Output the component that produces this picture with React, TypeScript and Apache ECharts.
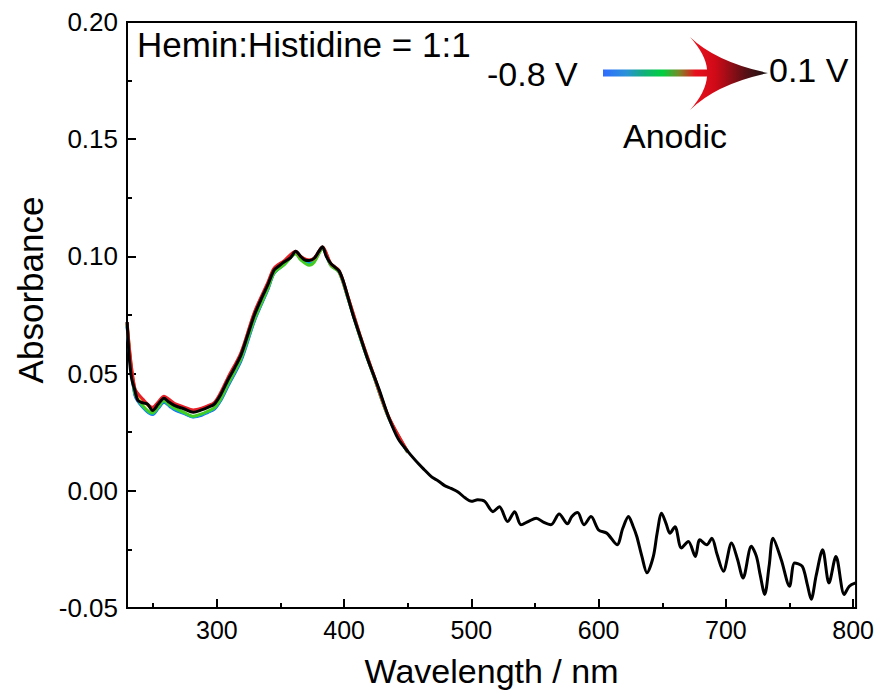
import React, { useEffect, useRef } from "react";
import * as echarts from "echarts";

// Black (final, 0.1 V) spectrum
const wavelengths = [
  229.5, 231, 233, 235.5, 238, 242, 245.5, 249.5, 254, 258.5, 262, 267, 274, 281.5, 288, 293, 298, 303, 309, 314,
  319, 324, 329.5, 335, 340, 345, 349, 353, 358, 362, 366, 369, 372.5, 376.5, 380, 383, 386, 389.5, 392.5, 396,
  399, 402.5, 407, 413, 418, 423, 428, 435, 442.5, 450.5, 458.5, 463, 469, 474, 479, 484, 489.5, 495, 500, 505,
  510.5, 517, 522, 528.5, 534, 539, 545, 551, 557, 562.5, 569, 575.5, 579, 583.5, 588.5, 594, 600, 606.5, 614.5, 619,
  623.5, 627, 630, 634, 638, 643, 646, 649.5, 653, 656, 660, 665, 670.5, 676, 679.5, 685, 689, 693, 698, 704.5,
  709, 713.5, 720, 724, 727, 730.5, 734, 737, 743.5, 750, 754, 760, 764, 767, 771, 776, 781, 786.5, 793, 797, 802,
];
const absorbanceFinal = [
  0.072, 0.058, 0.048, 0.043, 0.0385, 0.0375, 0.037, 0.0343, 0.037, 0.0395, 0.038, 0.0363, 0.035, 0.0335, 0.0345, 0.0356, 0.037, 0.041, 0.0476, 0.0525,
  0.058, 0.066, 0.075, 0.082, 0.0878, 0.0942, 0.096, 0.0977, 0.0995, 0.1022, 0.0999, 0.0985, 0.0982, 0.0992, 0.102, 0.1041, 0.1, 0.097, 0.0955, 0.0938,
  0.09, 0.0836, 0.075, 0.0653, 0.057, 0.0497, 0.0425, 0.0314, 0.0222, 0.0165, 0.0115, 0.009, 0.0058, 0.0042, 0.0022, 0.001, -0.0005, -0.003, -0.0045, -0.0038,
  -0.0045, -0.0089, -0.0068, -0.0131, -0.0089, -0.0145, -0.013, -0.0117, -0.0135, -0.0145, -0.0099, -0.0141, -0.011, -0.0093, -0.0145, -0.011, -0.0167, -0.0181, -0.023, -0.016,
  -0.011, -0.015, -0.0195, -0.028, -0.035, -0.028, -0.018, -0.0096, -0.014, -0.0181, -0.0153, -0.0244, -0.0216, -0.028, -0.0209, -0.023, -0.0202, -0.027, -0.0343, -0.0223,
  -0.029, -0.0372, -0.0237, -0.028, -0.036, -0.0442, -0.032, -0.0202, -0.0294, -0.0407, -0.0308, -0.0322, -0.04, -0.0463, -0.036, -0.0251, -0.0393, -0.028, -0.0442, -0.0407, -0.0393,
];

// Coloured intermediate spectra (only visible in the 230–450 nm region)
const wavelengthsColour = [
  229.5, 235.5, 242, 249.5, 254, 258.5, 263, 267, 274, 281.5, 288, 293, 298, 303, 309, 319,
  329.5, 340, 345, 353, 362, 366, 372.5, 376.5, 383, 389.5, 396, 402.5, 413, 423, 435, 450,
];
const absorbanceBlue = [
  0.07, 0.041, 0.0355, 0.0325, 0.0352, 0.0378, 0.036, 0.0345, 0.033, 0.0315, 0.0322, 0.0335, 0.0348, 0.0385, 0.045, 0.0555,
  0.0725, 0.0858, 0.0928, 0.0968, 0.1015, 0.0992, 0.0975, 0.0985, 0.1035, 0.0965, 0.0935, 0.0832, 0.065, 0.0495, 0.0312, 0.0164,
];
const absorbanceCyan = [
  0.0705, 0.0414, 0.0358, 0.0328, 0.0355, 0.0381, 0.0363, 0.0348, 0.0332, 0.0316, 0.0325, 0.0337, 0.0351, 0.0388, 0.0454, 0.056,
  0.0728, 0.086, 0.0929, 0.0966, 0.1012, 0.0988, 0.0968, 0.098, 0.1033, 0.0963, 0.0933, 0.0831, 0.0649, 0.0494, 0.0312, 0.0164,
];
const absorbanceGreen = [
  0.071, 0.0418, 0.0362, 0.0332, 0.0358, 0.0385, 0.0366, 0.0352, 0.0335, 0.0318, 0.0328, 0.034, 0.0354, 0.0392, 0.0458, 0.0565,
  0.0732, 0.0862, 0.093, 0.0965, 0.101, 0.0985, 0.0962, 0.0975, 0.1032, 0.0962, 0.0932, 0.083, 0.0648, 0.0494, 0.0312, 0.0164,
];
const absorbanceOrange = [
  0.0715, 0.0436, 0.0386, 0.0352, 0.0377, 0.04, 0.0385, 0.0368, 0.0355, 0.0342, 0.035, 0.036, 0.0373, 0.0415, 0.0482, 0.0587,
  0.0758, 0.0884, 0.0947, 0.098, 0.102, 0.0998, 0.0983, 0.099, 0.1039, 0.0969, 0.0939, 0.0837, 0.0655, 0.0498, 0.0315, 0.0166,
];
const absorbanceRed = [
  0.072, 0.0438, 0.039, 0.0356, 0.038, 0.0403, 0.0388, 0.0372, 0.0358, 0.0345, 0.0352, 0.0363, 0.0376, 0.0419, 0.0486, 0.059,
  0.0762, 0.0888, 0.095, 0.0982, 0.1022, 0.1, 0.0985, 0.0993, 0.104, 0.097, 0.094, 0.0838, 0.0656, 0.0499, 0.0316, 0.0167,
];

const xMajorTicks = [300, 400, 500, 600, 700, 800];
const xMinorTicks = [250, 350, 450, 550, 650, 750];
const xMin = 229.4;
const xMax = 802.3;
const yMin = -0.05;
const yMax = 0.2;
const yInterval = 0.05;

const FONT = "'Liberation Sans', Arial, Helvetica, sans-serif";

const arrowPath =
  "M690 37 Q716 62 768 73 Q716 84 690 110 Q706 92 707 76.5 L603 76.5 L603 69.5 L707 69.5 Q706 55 690 37 Z";

let registered = false;
function registerArrow() {
  if (registered) return;
  echarts.graphic.registerShape("gradArrow", echarts.graphic.extendPath(arrowPath, {}) as any);
  registered = true;
}

function pairs(xs: number[], ys: number[]) {
  return xs.map((x, i) => [x, ys[i]]);
}

export default function App() {
  const ref = useRef<HTMLDivElement>(null);
  useEffect(() => {
    if (!ref.current) return;
    registerArrow();
    const chart = echarts.init(ref.current, undefined, { renderer: "svg" });
    const colourSeries = [
      { name: "blue", color: "#1f55ff", data: absorbanceBlue },
      { name: "cyan", color: "#00b0d0", data: absorbanceCyan },
      { name: "green", color: "#44cc22", data: absorbanceGreen },
      { name: "orange", color: "#ff8a00", data: absorbanceOrange },
      { name: "red", color: "#e8202a", data: absorbanceRed },
    ];
    chart.setOption({
      animation: false,
      backgroundColor: "#ffffff",
      grid: {
        left: 127,
        right: 17,
        top: 22,
        bottom: 81,
        show: true,
        borderColor: "#000",
        borderWidth: 2,
        backgroundColor: "transparent",
      },
      xAxis: [
        {
          type: "value",
          min: xMin,
          max: xMax,
          name: "Wavelength / nm",
          nameLocation: "middle",
          nameGap: 46,
          nameTextStyle: { fontFamily: FONT, fontSize: 34, color: "#000" },
          axisLine: { show: true, onZero: false, lineStyle: { color: "#000", width: 2 } },
          axisTick: { show: true, inside: true, length: 9, lineStyle: { color: "#000", width: 2 }, customValues: xMajorTicks },
          axisLabel: { show: true, fontFamily: FONT, fontSize: 25, color: "#000", margin: 9, customValues: xMajorTicks },
          splitLine: { show: false },
        },
        {
          type: "value",
          min: xMin,
          max: xMax,
          position: "bottom",
          axisLine: { show: false, onZero: false },
          axisTick: { show: true, inside: true, length: 5, lineStyle: { color: "#000", width: 2 }, customValues: xMinorTicks },
          axisLabel: { show: false },
          splitLine: { show: false },
        },
      ],
      yAxis: {
        type: "value",
        min: yMin,
        max: yMax,
        interval: yInterval,
        axisLine: { show: true, onZero: false, lineStyle: { color: "#000", width: 2 } },
        axisTick: { show: true, inside: true, length: 9, lineStyle: { color: "#000", width: 2 } },
        minorTick: { show: true, splitNumber: 2, length: 5, lineStyle: { color: "#000", width: 2 } },
        axisLabel: {
          fontFamily: FONT,
          fontSize: 26,
          color: "#000",
          margin: 9,
          formatter: (v: number) => v.toFixed(2),
        },
        splitLine: { show: false },
      },
      series: [
        ...colourSeries.map((s) => ({
          type: "line",
          name: s.name,
          xAxisIndex: 0,
          data: pairs(wavelengthsColour, s.data),
          showSymbol: false,
          smooth: 0.3,
          lineStyle: { color: s.color, width: 3 },
          silent: true,
        })),
        {
          type: "line",
          name: "0.1 V",
          xAxisIndex: 0,
          data: pairs(wavelengths, absorbanceFinal),
          showSymbol: false,
          smooth: 0.3,
          lineStyle: { color: "#000", width: 3 },
          silent: true,
          z: 5,
        },
      ],
      graphic: [
        {
          type: "text",
          x: 30,
          y: 290,
          rotation: Math.PI / 2,
          style: { text: "Absorbance", fontFamily: FONT, fontSize: 35, fill: "#000", align: "center", verticalAlign: "middle" },
        },
        {
          type: "text",
          left: 137,
          top: 27,
          style: { text: "Hemin:Histidine = 1:1", fontFamily: FONT, fontSize: 35, fill: "#000" },
        },
        {
          type: "text",
          x: 487,
          y: 74,
          style: { text: "-0.8 V", fontFamily: FONT, fontSize: 34, fill: "#000", verticalAlign: "middle" },
        },
        {
          type: "text",
          x: 769,
          y: 70,
          style: { text: "0.1 V", fontFamily: FONT, fontSize: 34, fill: "#000", verticalAlign: "middle" },
        },
        {
          type: "text",
          x: 675,
          y: 136,
          style: { text: "Anodic", fontFamily: FONT, fontSize: 34, fill: "#000", align: "center", verticalAlign: "middle" },
        },
        {
          type: "gradArrow",
          x: 0,
          y: 0,
          style: {
            fill: {
              type: "linear",
              x: 603,
              y: 0,
              x2: 768,
              y2: 0,
              global: true,
              colorStops: [
                { offset: 0, color: "#2f6cff" },
                { offset: 0.14, color: "#2a92d8" },
                { offset: 0.25, color: "#12b07a" },
                { offset: 0.36, color: "#00d040" },
                { offset: 0.46, color: "#7a8a28" },
                { offset: 0.56, color: "#e8101c" },
                { offset: 0.68, color: "#d00a18" },
                { offset: 0.86, color: "#5a1014" },
                { offset: 1, color: "#151515" },
              ],
            },
          },
        } as any,
      ],
    });
    return () => chart.dispose();
  }, []);
  return <div ref={ref} style={{ position: "fixed", left: 0, top: 0, width: 877, height: 693 }} />;
}
